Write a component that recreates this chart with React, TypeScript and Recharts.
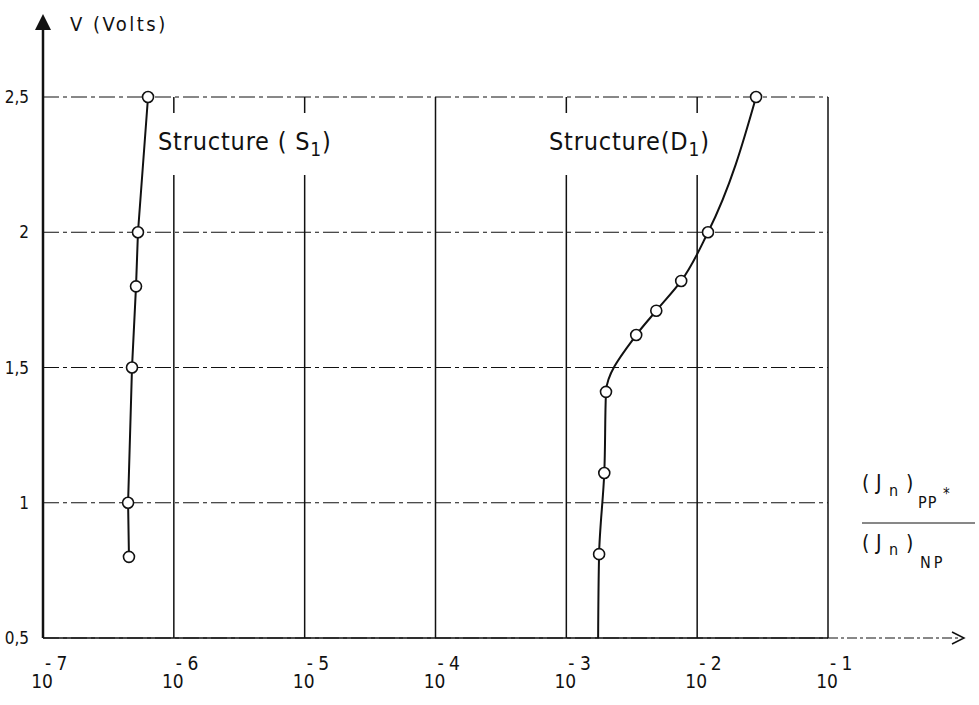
import React from 'react';
import { ScatterChart, Scatter, XAxis, YAxis, CartesianGrid } from 'recharts';

// decade ticks on the log current-ratio axis
const decadeTicks = [1e-7, 1e-6, 1e-5, 1e-4, 1e-3, 1e-2, 1e-1];
const voltTicks = [0.5, 1, 1.5, 2, 2.5];
const voltTickLabels = ['0,5', '1', '1,5', '2', '2,5'];

// Structure (S1)
const s1Ratio = [6.35e-7, 5.32e-7, 5.14e-7, 4.79e-7, 4.47e-7, 4.54e-7];
const s1Volts = [2.5, 2.0, 1.8, 1.5, 1.0, 0.8];

// Structure (D1) - last entry is where the curve meets the axis (no marker)
const d1Ratio = [2.82e-2, 1.21e-2, 7.55e-3, 4.87e-3, 3.42e-3, 2.01e-3, 1.95e-3, 1.78e-3, 1.75e-3];
const d1Volts = [2.5, 2.0, 1.82, 1.71, 1.62, 1.41, 1.11, 0.81, 0.5];
const d1Marked = [true, true, true, true, true, true, true, true, false];

const s1Data = s1Ratio.map((r, i) => ({ ratio: r, volts: s1Volts[i], marked: true }));
const d1Data = d1Ratio.map((r, i) => ({ ratio: r, volts: d1Volts[i], marked: d1Marked[i] }));

const FONT = "'DejaVu Sans Condensed', 'DejaVu Sans', sans-serif";
const INK = '#111';

const OpenDot = (props: any) => {
  const { cx, cy, payload } = props;
  if (!payload || !payload.marked) return <g />;
  return <circle cx={cx} cy={cy} r={5.5} fill="#fff" stroke={INK} strokeWidth={1.6} />;
};

const XTick = (props: any) => {
  const { x, y, payload } = props;
  const exp = Math.round(Math.log10(payload.value));
  return (
    <g fontFamily={FONT} fill={INK}>
      <text x={x - 1} y={y + 42} textAnchor="middle" fontSize={19}>10</text>
      <text x={x + 2} y={y + 24} textAnchor="start" fontSize={19}>{'- ' + Math.abs(exp)}</text>
    </g>
  );
};

const labelBox: React.CSSProperties = {
  position: 'absolute', top: 113, height: 62, padding: '0 3px',
  background: '#fff', fontFamily: FONT, fontSize: 25, letterSpacing: 0.8, color: INK,
  display: 'flex', alignItems: 'center', whiteSpace: 'nowrap', lineHeight: 1,
};

const App: React.FC = () => {
  const W = 979;
  const H = 705;
  const left = 43;
  const top = 97;
  const right = 828;
  const bottom = 638;

  return (
    <div style={{ position: 'fixed', left: 0, top: 0, width: W, height: H, background: '#fff' }}>
      <ScatterChart
        width={W}
        height={H}
        margin={{ top: top, right: W - right, bottom: 0, left: 0 }}
      >
        <CartesianGrid horizontal={false} stroke={INK} strokeWidth={1.5} />
        <CartesianGrid vertical={false} stroke={INK} strokeWidth={1} strokeDasharray="16 4 4 4" />
        <XAxis
          type="number"
          dataKey="ratio"
          scale="log"
          domain={[1e-7, 1e-1]}
          ticks={decadeTicks}
          allowDataOverflow
          height={H - bottom}
          tickLine={false}
          axisLine={{ stroke: INK, strokeWidth: 1.5 }}
          tick={<XTick />}
          interval={0}
        />
        <YAxis
          type="number"
          dataKey="volts"
          domain={[0.5, 2.5]}
          ticks={voltTicks}
          width={left}
          tickLine={false}
          axisLine={{ stroke: INK, strokeWidth: 2.5 }}
          tickMargin={8}
          tickFormatter={(v: number) => voltTickLabels[voltTicks.indexOf(v)] ?? String(v)}
          tick={{ fill: INK, fontSize: 17, fontFamily: FONT }}
          interval={0}
        />
        <Scatter
          data={s1Data}
          line={{ stroke: INK, strokeWidth: 2 }}
          lineJointType="linear"
          shape={<OpenDot />}
          isAnimationActive={false}
        />
        <Scatter
          data={d1Data}
          line={{ stroke: INK, strokeWidth: 2 }}
          lineJointType="monotoneY"
          shape={<OpenDot />}
          isAnimationActive={false}
        />
      </ScatterChart>

      {/* axis arrows and extensions */}
      <svg width={W} height={H} style={{ position: 'absolute', left: 0, top: 0, pointerEvents: 'none' }}>
        <line x1={left} y1={top} x2={left} y2={24} stroke={INK} strokeWidth={2.5} />
        <polygon points={`${left},14 ${left - 8},30 ${left + 8},30`} fill={INK} />
        <line x1={right} y1={bottom} x2={958} y2={bottom} stroke={INK} strokeWidth={1} strokeDasharray="10 3 3 3" />
        <polyline points={`952,632 964,638 952,644`} fill="none" stroke={INK} strokeWidth={1.5} />
        <text x={70} y={31} fontFamily={FONT} fontSize={20} fill={INK} letterSpacing={2.5}>
          V  (Volts)
        </text>
        {/* x quantity: (Jn)PP* / (Jn)NP */}
        <g fontFamily={FONT} fill={INK} fontSize={21}>
          <text x={862} y={490}>(</text>
          <text x={876} y={490}>J</text>
          <text x={889} y={496} fontSize={16}>n</text>
          <text x={906} y={490}>)</text>
          <text x={918} y={508} fontSize={16} letterSpacing={1}>PP</text>
          <text x={943} y={499} fontSize={15}>*</text>
          <line x1={862} y1={523} x2={975} y2={523} stroke={INK} strokeWidth={1} />
          <text x={862} y={550}>(</text>
          <text x={876} y={550}>J</text>
          <text x={889} y={555} fontSize={16}>n</text>
          <text x={906} y={550}>)</text>
          <text x={920} y={568} fontSize={16} letterSpacing={3}>NP</text>
        </g>
      </svg>

      {/* curve labels with white backing (they interrupt the grid lines) */}
      <div style={{ ...labelBox, left: 155 }}>
        <span>Structure ( S<sub style={{ fontSize: 19 }}>1</sub>)</span>
      </div>
      <div style={{ ...labelBox, left: 546 }}>
        <span>Structure(D<sub style={{ fontSize: 19 }}>1</sub>)</span>
      </div>
    </div>
  );
};

export default App;
